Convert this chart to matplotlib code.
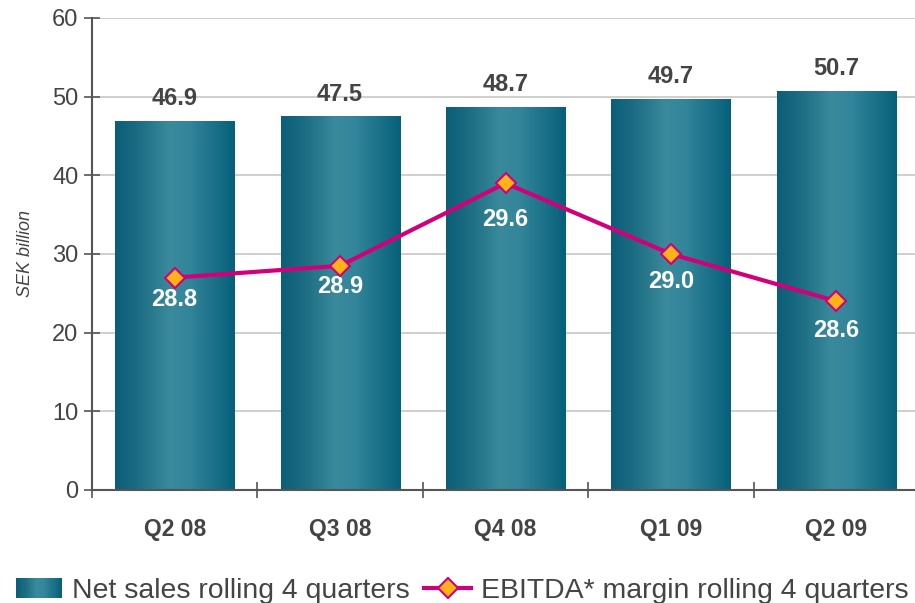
import numpy as np
import matplotlib.pyplot as plt
from matplotlib.colors import LinearSegmentedColormap
from matplotlib.patches import Rectangle
from matplotlib.lines import Line2D
from matplotlib.legend_handler import HandlerBase

plt.rcParams['font.family'] = ['Liberation Sans', 'DejaVu Sans']

quarters = ["Q2 08", "Q3 08", "Q4 08", "Q1 09", "Q2 09"]
net_sales = [46.9, 47.5, 48.7, 49.7, 50.7]
ebitda_margin = [28.8, 28.9, 29.6, 29.0, 28.6]
# how far below each marker its label sits (points)
label_drop = [-16, -15, -26, -19.5, -21]

grey = "#444444"
magenta = "#d1007a"
orange = "#ffb316"
teal = LinearSegmentedColormap.from_list(
    "teal", [(0, "#0a5e77"), (0.2, "#1d6d83"), (0.45, "#3a8a9c"),
             (0.62, "#33859a"), (1, "#06607a")])


class GradientHandler(HandlerBase):
    def create_artists(self, legend, orig_handle, xdescent, ydescent,
                       width, height, fontsize, trans):
        n = 30
        out = []
        for i in range(n):
            r = Rectangle((-xdescent + i * width / n, -ydescent), width / n * 1.05,
                          height, facecolor=teal(i / (n - 1)), edgecolor='none',
                          transform=trans)
            out.append(r)
        return out


fig = plt.figure(figsize=(9.15, 6.03), dpi=100)
ax = fig.add_axes([0.1005, 0.1874, 0.904, 0.7828])
x = np.arange(len(quarters))

ax.yaxis.grid(True, color="#cfcfcf", linewidth=1.4)
ax.set_axisbelow(True)

bars = ax.bar(x, net_sales, width=0.72, color='none', edgecolor='none', zorder=2)
grad = np.linspace(0, 1, 256).reshape(1, -1)
for b in bars:
    im = ax.imshow(grad, cmap=teal, aspect='auto', zorder=2,
                   extent=[b.get_x(), b.get_x() + b.get_width(), 0, b.get_height()])
    im.set_clip_path(b)
ax.set_xlim(-0.5, len(quarters) - 0.5)
ax.set_ylim(0, 60)
ax.set_yticks(range(0, 61, 10))

for xi, v in zip(x, net_sales):
    ax.annotate(f"{v:.1f}", (xi, v), xytext=(0, 16), textcoords='offset points',
                ha='center', va='center', fontsize=17, fontweight='bold', color=grey)

for s in ['top', 'right']:
    ax.spines[s].set_visible(False)
for s in ['left', 'bottom']:
    ax.spines[s].set_color("#555555")
    ax.spines[s].set_linewidth(1.5)
    ax.spines[s].set_zorder(3)

ax.set_xticks(x)
ax.set_xticklabels(quarters, fontsize=16.5, fontweight='bold', color=grey)
ax.tick_params(axis='x', which='major', length=0, pad=20)
ax.set_xticks(np.arange(-0.5, len(quarters)), minor=True)
ax.tick_params(axis='x', which='minor', direction='inout', length=11,
               width=1.2, color="#555555")
ax.tick_params(axis='y', direction='inout', length=11.5, width=1.2,
               color="#555555", labelsize=17, labelcolor=grey, pad=4)
ax.set_ylabel("SEK billion", fontsize=13, style='italic', color=grey, labelpad=13)

ax2 = ax.twinx()
ax2.set_ylim(27, 31)
ax2.axis('off')
ax2.plot(x, ebitda_margin, color=magenta, linewidth=3, marker='D', markersize=10,
         markerfacecolor=orange, markeredgecolor=magenta, markeredgewidth=1.5, zorder=4)
for xi, v, d in zip(x, ebitda_margin, label_drop):
    ax2.annotate(f"{v:.1f}", (xi, v), xytext=(0, d), textcoords='offset points',
                 ha='center', va='center', fontsize=17, fontweight='bold', color='white')

h1 = Rectangle((0, 0), 1, 1)
h2 = Line2D([], [], color=magenta, linewidth=3, marker='D', markersize=10,
            markerfacecolor=orange, markeredgecolor=magenta, markeredgewidth=1.5)
fig.legend([h1, h2], ["Net sales rolling 4 quarters", "EBITDA* margin rolling 4 quarters"],
           handler_map={Rectangle: GradientHandler()}, loc='center',
           bbox_to_anchor=(0.505, 1 - 591 / 603), ncol=2, frameon=False,
           fontsize=20.4, handlelength=1.65, handleheight=0.7, handletextpad=0.35,
           columnspacing=0.5, labelcolor=grey, borderaxespad=0, borderpad=0)

fig.savefig("out.png", dpi=100)
